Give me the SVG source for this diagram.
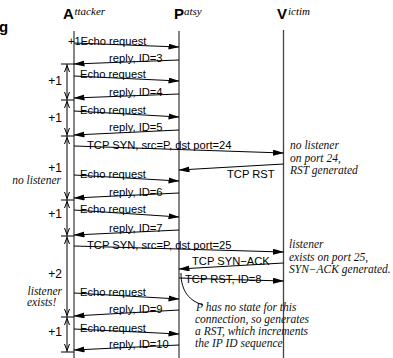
<svg xmlns="http://www.w3.org/2000/svg" width="393" height="358" viewBox="0 0 393 358">
<defs>
<marker id="ah" markerUnits="userSpaceOnUse" markerWidth="12" markerHeight="7" refX="10.5" refY="3" orient="auto">
<path d="M0,0 L11,3 L0,6 z" fill="#000"/>
</marker>
<style>
.ll{stroke:#444;stroke-width:1.3;fill:none}
.msg{stroke:#000;stroke-width:1;fill:none;marker-end:url(#ah)}
.br{stroke:#000;stroke-width:1;fill:none}
.t{font-family:"Liberation Sans",Arial,sans-serif;font-size:11.2px;fill:#000}
.lb{font-family:"Liberation Sans",Arial,sans-serif;font-size:12px;fill:#000}
.n{font-family:"Liberation Serif","Times New Roman",serif;font-style:italic;font-size:11.5px;fill:#111}
.hb{font-family:"Liberation Sans",Arial,sans-serif;font-weight:bold;font-size:15px;fill:#000}
.hi{font-family:"Liberation Serif","Times New Roman",serif;font-style:italic;font-size:11px;fill:#000}
</style>
</defs>
<rect width="393" height="358" fill="#fff"/>
<text x="-1" y="32" class="hb">g</text>

<g id="attacker">
<text x="63" y="19" class="hb">A</text><text x="74.5" y="15" class="hi">ttacker</text>
<line x1="74" y1="31" x2="74" y2="358" class="ll"/>
</g>
<g id="patsy">
<text x="174" y="19" class="hb">P</text><text x="184" y="15" class="hi">atsy</text>
<line x1="179" y1="31" x2="179" y2="358" class="ll"/>
</g>
<g id="victim">
<text x="277" y="19" class="hb">V</text><text x="288" y="15" class="hi">ictim</text>
<line x1="283.5" y1="30" x2="283.5" y2="358" class="ll"/>
</g>

<g id="brackets">
<line x1="67" y1="64" x2="67" y2="352" class="br"/>
<path class="br" d="M61,64H74 M61,100H74 M61,136H74 M61,200H74 M61,236H74 M61,317H74 M61,352H74"/>
<path class="br" d="M64.5,72L67,65.5L69.5,72 M64.5,92L67,98.5L69.5,92 M64.5,108L67,101.5L69.5,108 M64.5,128L67,134.5L69.5,128 M64.5,144L67,137.5L69.5,144 M64.5,192L67,198.5L69.5,192 M64.5,208L67,201.5L69.5,208 M64.5,228L67,234.5L69.5,228 M64.5,244L67,237.5L69.5,244 M64.5,309L67,315.5L69.5,309 M64.5,325L67,318.5L69.5,325 M64.5,344L67,350.5L69.5,344"/>
<text x="62" y="85" class="lb" text-anchor="end">+1</text>
<text x="62" y="122" class="lb" text-anchor="end">+1</text>
<text x="62" y="172" class="lb" text-anchor="end">+1</text>
<text x="61" y="184" class="n" text-anchor="end">no listener</text>
<text x="62" y="218" class="lb" text-anchor="end">+1</text>
<text x="62" y="278" class="lb" text-anchor="end">+2</text>
<text x="62" y="295" class="n" text-anchor="end">listener</text>
<text x="27" y="306" class="n">exists!</text>
<text x="62" y="336" class="lb" text-anchor="end">+1</text>
</g>

<g id="connectors">
<line x1="74" y1="43" x2="179" y2="47" class="msg"/>
<line x1="179" y1="60" x2="74" y2="64" class="msg"/>
<line x1="74" y1="76" x2="179" y2="81" class="msg"/>
<line x1="179" y1="94" x2="74" y2="98" class="msg"/>
<line x1="74" y1="111" x2="179" y2="117" class="msg"/>
<line x1="179" y1="130" x2="74" y2="135" class="msg"/>
<line x1="74" y1="146" x2="283.5" y2="153" class="msg"/>
<line x1="283.5" y1="164" x2="179" y2="170" class="msg"/>
<line x1="74" y1="175" x2="179" y2="181" class="msg"/>
<line x1="179" y1="193" x2="74" y2="198" class="msg"/>
<line x1="74" y1="210" x2="179" y2="217" class="msg"/>
<line x1="179" y1="230" x2="74" y2="235" class="msg"/>
<line x1="74" y1="246" x2="283.5" y2="252" class="msg"/>
<line x1="283.5" y1="263" x2="179" y2="269" class="msg"/>
<line x1="179" y1="278" x2="283.5" y2="281" class="msg"/>
<line x1="74" y1="293" x2="179" y2="299" class="msg"/>
<line x1="179" y1="310" x2="74" y2="316" class="msg"/>
<line x1="74" y1="329" x2="179" y2="334" class="msg"/>
<line x1="179" y1="345" x2="74" y2="350" class="msg"/>
<path class="br" d="M181,273 C181,292 190,301 203,305"/>
</g>

<g id="labels">
<text x="68" y="45" class="t" font-size="10.5">+1</text>
<text x="80.5" y="45" class="t">Echo request</text>
<text x="109" y="62" class="t">reply, ID=3</text>
<text x="80" y="78" class="t">Echo request</text>
<text x="109" y="96" class="t">reply, ID=4</text>
<text x="80" y="114" class="t">Echo request</text>
<text x="109" y="131" class="t">reply, ID=5</text>
<text x="87" y="149" class="t">TCP SYN, src=P, dst port=24</text>
<text x="227" y="178" class="t">TCP RST</text>
<text x="80" y="178" class="t">Echo request</text>
<text x="109" y="196" class="t">reply, ID=6</text>
<text x="80" y="213" class="t">Echo request</text>
<text x="109" y="232" class="t">reply, ID=7</text>
<text x="87" y="249" class="t">TCP SYN, src=P, dst port=25</text>
<text x="192" y="265" class="t">TCP SYN−ACK</text>
<text x="185" y="283" class="t">TCP RST, ID=8</text>
<text x="80" y="296" class="t">Echo request</text>
<text x="109" y="313" class="t">reply, ID=9</text>
<text x="80" y="332" class="t">Echo request</text>
<text x="109" y="348" class="t">reply, ID=10</text>
</g>

<g id="notes">
<text x="290" y="149" class="n">no listener</text>
<text x="290" y="161.5" class="n">on port 24,</text>
<text x="290" y="174" class="n">RST generated</text>
<text x="289" y="248" class="n">listener</text>
<text x="289" y="260.5" class="n">exists on port 25,</text>
<text x="289" y="273" class="n">SYN−ACK generated.</text>
<text x="196" y="311" class="n">P has no state for this</text>
<text x="195" y="323" class="n">connection, so generates</text>
<text x="195" y="335" class="n">a RST, which increments</text>
<text x="195" y="347" class="n">the IP ID sequence</text>
</g>
</svg>
